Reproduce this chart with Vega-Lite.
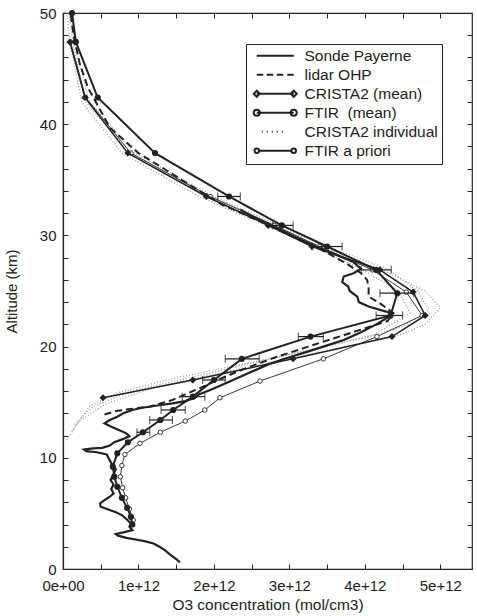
{
  "$schema": "https://vega.github.io/schema/vega-lite/v6.json",
  "width": 409,
  "height": 556,
  "autosize": "none",
  "padding": {"left": 63, "top": 13, "right": 5, "bottom": 47},
  "background": "#ffffff",
  "config": {
    "view": {"stroke": "#222", "strokeWidth": 1.2},
    "axis": {
      "domainColor": "#222", "tickColor": "#222", "labelColor": "#222", "titleColor": "#222",
      "labelFont": "Liberation Sans", "titleFont": "Liberation Sans",
      "labelFontSize": 15, "titleFontSize": 15.5, "titleFontWeight": "normal",
      "grid": false, "tickSize": -5, "tickWidth": 1, "domainWidth": 1.2
    }
  },
  "data": {
    "values": [
      {"s": "Sonde Payerne", "c": 1.55e12, "alt": 0.6},
      {"s": "Sonde Payerne", "c": 1.50e12, "alt": 0.9},
      {"s": "Sonde Payerne", "c": 1.42e12, "alt": 1.3},
      {"s": "Sonde Payerne", "c": 1.35e12, "alt": 1.7},
      {"s": "Sonde Payerne", "c": 1.28e12, "alt": 2.0},
      {"s": "Sonde Payerne", "c": 1.20e12, "alt": 2.3},
      {"s": "Sonde Payerne", "c": 1.08e12, "alt": 2.5},
      {"s": "Sonde Payerne", "c": 0.96e12, "alt": 2.65},
      {"s": "Sonde Payerne", "c": 0.84e12, "alt": 2.8},
      {"s": "Sonde Payerne", "c": 0.73e12, "alt": 3.0},
      {"s": "Sonde Payerne", "c": 0.70e12, "alt": 3.15},
      {"s": "Sonde Payerne", "c": 0.80e12, "alt": 3.3},
      {"s": "Sonde Payerne", "c": 0.92e12, "alt": 3.5},
      {"s": "Sonde Payerne", "c": 0.88e12, "alt": 3.8},
      {"s": "Sonde Payerne", "c": 0.90e12, "alt": 4.1},
      {"s": "Sonde Payerne", "c": 0.84e12, "alt": 4.5},
      {"s": "Sonde Payerne", "c": 0.78e12, "alt": 4.85},
      {"s": "Sonde Payerne", "c": 0.70e12, "alt": 5.1},
      {"s": "Sonde Payerne", "c": 0.60e12, "alt": 5.35},
      {"s": "Sonde Payerne", "c": 0.50e12, "alt": 5.6},
      {"s": "Sonde Payerne", "c": 0.49e12, "alt": 5.9},
      {"s": "Sonde Payerne", "c": 0.55e12, "alt": 6.2},
      {"s": "Sonde Payerne", "c": 0.62e12, "alt": 6.5},
      {"s": "Sonde Payerne", "c": 0.67e12, "alt": 6.8},
      {"s": "Sonde Payerne", "c": 0.64e12, "alt": 7.2},
      {"s": "Sonde Payerne", "c": 0.67e12, "alt": 7.6},
      {"s": "Sonde Payerne", "c": 0.63e12, "alt": 8.0},
      {"s": "Sonde Payerne", "c": 0.67e12, "alt": 8.5},
      {"s": "Sonde Payerne", "c": 0.70e12, "alt": 9.0},
      {"s": "Sonde Payerne", "c": 0.65e12, "alt": 9.4},
      {"s": "Sonde Payerne", "c": 0.61e12, "alt": 9.9},
      {"s": "Sonde Payerne", "c": 0.58e12, "alt": 10.3},
      {"s": "Sonde Payerne", "c": 0.45e12, "alt": 10.5},
      {"s": "Sonde Payerne", "c": 0.31e12, "alt": 10.6},
      {"s": "Sonde Payerne", "c": 0.28e12, "alt": 10.75},
      {"s": "Sonde Payerne", "c": 0.40e12, "alt": 10.85},
      {"s": "Sonde Payerne", "c": 0.52e12, "alt": 10.9},
      {"s": "Sonde Payerne", "c": 0.62e12, "alt": 11.1},
      {"s": "Sonde Payerne", "c": 0.68e12, "alt": 11.4},
      {"s": "Sonde Payerne", "c": 0.80e12, "alt": 11.7},
      {"s": "Sonde Payerne", "c": 0.88e12, "alt": 11.95},
      {"s": "Sonde Payerne", "c": 0.84e12, "alt": 12.2},
      {"s": "Sonde Payerne", "c": 0.74e12, "alt": 12.5},
      {"s": "Sonde Payerne", "c": 0.64e12, "alt": 12.8},
      {"s": "Sonde Payerne", "c": 0.55e12, "alt": 13.1},
      {"s": "Sonde Payerne", "c": 0.62e12, "alt": 13.4},
      {"s": "Sonde Payerne", "c": 0.72e12, "alt": 13.7},
      {"s": "Sonde Payerne", "c": 0.80e12, "alt": 14.0},
      {"s": "Sonde Payerne", "c": 0.92e12, "alt": 14.3},
      {"s": "Sonde Payerne", "c": 1.05e12, "alt": 14.5},
      {"s": "Sonde Payerne", "c": 1.25e12, "alt": 14.7},
      {"s": "Sonde Payerne", "c": 1.45e12, "alt": 14.9},
      {"s": "Sonde Payerne", "c": 1.62e12, "alt": 15.1},
      {"s": "Sonde Payerne", "c": 1.75e12, "alt": 15.4},
      {"s": "Sonde Payerne", "c": 1.80e12, "alt": 15.7},
      {"s": "Sonde Payerne", "c": 1.95e12, "alt": 16.1},
      {"s": "Sonde Payerne", "c": 2.12e12, "alt": 16.6},
      {"s": "Sonde Payerne", "c": 2.32e12, "alt": 17.2},
      {"s": "Sonde Payerne", "c": 2.52e12, "alt": 17.8},
      {"s": "Sonde Payerne", "c": 2.72e12, "alt": 18.4},
      {"s": "Sonde Payerne", "c": 2.98e12, "alt": 19.0},
      {"s": "Sonde Payerne", "c": 3.22e12, "alt": 19.5},
      {"s": "Sonde Payerne", "c": 3.45e12, "alt": 20.0},
      {"s": "Sonde Payerne", "c": 3.72e12, "alt": 20.6},
      {"s": "Sonde Payerne", "c": 3.95e12, "alt": 21.3},
      {"s": "Sonde Payerne", "c": 4.15e12, "alt": 22.0},
      {"s": "Sonde Payerne", "c": 4.30e12, "alt": 22.6},
      {"s": "Sonde Payerne", "c": 4.36e12, "alt": 23.0},
      {"s": "Sonde Payerne", "c": 4.20e12, "alt": 23.3},
      {"s": "Sonde Payerne", "c": 4.05e12, "alt": 23.6},
      {"s": "Sonde Payerne", "c": 3.92e12, "alt": 24.0},
      {"s": "Sonde Payerne", "c": 3.90e12, "alt": 24.5},
      {"s": "Sonde Payerne", "c": 3.80e12, "alt": 25.0},
      {"s": "Sonde Payerne", "c": 3.78e12, "alt": 25.4},
      {"s": "Sonde Payerne", "c": 3.70e12, "alt": 25.8},
      {"s": "Sonde Payerne", "c": 3.72e12, "alt": 26.3},
      {"s": "Sonde Payerne", "c": 3.85e12, "alt": 26.6},
      {"s": "Sonde Payerne", "c": 3.95e12, "alt": 27.0},
      {"s": "Sonde Payerne", "c": 3.85e12, "alt": 27.6},
      {"s": "Sonde Payerne", "c": 3.60e12, "alt": 28.3},
      {"s": "Sonde Payerne", "c": 3.35e12, "alt": 29.0},
      {"s": "Sonde Payerne", "c": 3.10e12, "alt": 29.8},
      {"s": "Sonde Payerne", "c": 2.85e12, "alt": 30.6},
      {"s": "Sonde Payerne", "c": 2.60e12, "alt": 31.4},
      {"s": "Sonde Payerne", "c": 2.35e12, "alt": 32.3},

      {"s": "lidar OHP", "c": 0.55e12, "alt": 13.9},
      {"s": "lidar OHP", "c": 0.70e12, "alt": 14.2},
      {"s": "lidar OHP", "c": 0.90e12, "alt": 14.4},
      {"s": "lidar OHP", "c": 1.15e12, "alt": 14.6},
      {"s": "lidar OHP", "c": 1.30e12, "alt": 14.9},
      {"s": "lidar OHP", "c": 1.45e12, "alt": 15.2},
      {"s": "lidar OHP", "c": 1.62e12, "alt": 15.7},
      {"s": "lidar OHP", "c": 1.86e12, "alt": 16.4},
      {"s": "lidar OHP", "c": 2.05e12, "alt": 17.0},
      {"s": "lidar OHP", "c": 2.40e12, "alt": 18.0},
      {"s": "lidar OHP", "c": 2.80e12, "alt": 19.0},
      {"s": "lidar OHP", "c": 3.25e12, "alt": 20.0},
      {"s": "lidar OHP", "c": 3.80e12, "alt": 21.2},
      {"s": "lidar OHP", "c": 4.30e12, "alt": 22.3},
      {"s": "lidar OHP", "c": 4.38e12, "alt": 23.0},
      {"s": "lidar OHP", "c": 4.22e12, "alt": 23.8},
      {"s": "lidar OHP", "c": 4.05e12, "alt": 24.5},
      {"s": "lidar OHP", "c": 4.05e12, "alt": 25.3},
      {"s": "lidar OHP", "c": 4.03e12, "alt": 26.0},
      {"s": "lidar OHP", "c": 3.95e12, "alt": 26.6},
      {"s": "lidar OHP", "c": 3.75e12, "alt": 27.5},
      {"s": "lidar OHP", "c": 3.40e12, "alt": 28.8},
      {"s": "lidar OHP", "c": 3.00e12, "alt": 30.0},
      {"s": "lidar OHP", "c": 2.60e12, "alt": 31.3},
      {"s": "lidar OHP", "c": 2.10e12, "alt": 32.8},
      {"s": "lidar OHP", "c": 1.64e12, "alt": 34.7},
      {"s": "lidar OHP", "c": 1.29e12, "alt": 36.2},
      {"s": "lidar OHP", "c": 1.00e12, "alt": 37.4},
      {"s": "lidar OHP", "c": 0.62e12, "alt": 39.7},
      {"s": "lidar OHP", "c": 0.33e12, "alt": 43.3},
      {"s": "lidar OHP", "c": 0.22e12, "alt": 45.5},
      {"s": "lidar OHP", "c": 0.14e12, "alt": 48.0},
      {"s": "lidar OHP", "c": 0.10e12, "alt": 50.0},

      {"s": "CRISTA2 (mean)", "c": 0.09e12, "alt": 47.4},
      {"s": "CRISTA2 (mean)", "c": 0.29e12, "alt": 42.4},
      {"s": "CRISTA2 (mean)", "c": 0.86e12, "alt": 37.4},
      {"s": "CRISTA2 (mean)", "c": 1.90e12, "alt": 33.5},
      {"s": "CRISTA2 (mean)", "c": 2.72e12, "alt": 30.9},
      {"s": "CRISTA2 (mean)", "c": 3.30e12, "alt": 29.0},
      {"s": "CRISTA2 (mean)", "c": 4.20e12, "alt": 26.9},
      {"s": "CRISTA2 (mean)", "c": 4.64e12, "alt": 24.9},
      {"s": "CRISTA2 (mean)", "c": 4.80e12, "alt": 22.8},
      {"s": "CRISTA2 (mean)", "c": 4.36e12, "alt": 20.9},
      {"s": "CRISTA2 (mean)", "c": 3.05e12, "alt": 18.9},
      {"s": "CRISTA2 (mean)", "c": 1.72e12, "alt": 17.0},
      {"s": "CRISTA2 (mean)", "c": 0.53e12, "alt": 15.4},

      {"s": "FTIR (mean)", "c": 0.12e12, "alt": 50.0},
      {"s": "FTIR (mean)", "c": 0.17e12, "alt": 47.4},
      {"s": "FTIR (mean)", "c": 0.46e12, "alt": 42.4},
      {"s": "FTIR (mean)", "c": 1.22e12, "alt": 37.4},
      {"s": "FTIR (mean)", "c": 2.20e12, "alt": 33.5, "lo": 2.05e12, "hi": 2.35e12},
      {"s": "FTIR (mean)", "c": 2.90e12, "alt": 30.9, "lo": 2.78e12, "hi": 3.05e12},
      {"s": "FTIR (mean)", "c": 3.50e12, "alt": 29.0, "lo": 3.30e12, "hi": 3.70e12},
      {"s": "FTIR (mean)", "c": 4.15e12, "alt": 26.9, "lo": 3.95e12, "hi": 4.35e12},
      {"s": "FTIR (mean)", "c": 4.43e12, "alt": 24.8, "lo": 4.20e12, "hi": 4.65e12},
      {"s": "FTIR (mean)", "c": 4.34e12, "alt": 22.8, "lo": 4.15e12, "hi": 4.50e12},
      {"s": "FTIR (mean)", "c": 3.28e12, "alt": 20.9, "lo": 3.12e12, "hi": 3.45e12},
      {"s": "FTIR (mean)", "c": 2.37e12, "alt": 18.9, "lo": 2.15e12, "hi": 2.60e12},
      {"s": "FTIR (mean)", "c": 2.00e12, "alt": 17.0, "lo": 1.85e12, "hi": 2.15e12},
      {"s": "FTIR (mean)", "c": 1.72e12, "alt": 15.5, "lo": 1.58e12, "hi": 1.88e12},
      {"s": "FTIR (mean)", "c": 1.46e12, "alt": 14.3, "lo": 1.30e12, "hi": 1.62e12},
      {"s": "FTIR (mean)", "c": 1.29e12, "alt": 13.4, "lo": 1.15e12, "hi": 1.45e12},
      {"s": "FTIR (mean)", "c": 1.06e12, "alt": 12.3, "lo": 0.98e12, "hi": 1.15e12},
      {"s": "FTIR (mean)", "c": 0.86e12, "alt": 11.4},
      {"s": "FTIR (mean)", "c": 0.72e12, "alt": 10.4},
      {"s": "FTIR (mean)", "c": 0.66e12, "alt": 9.2},
      {"s": "FTIR (mean)", "c": 0.68e12, "alt": 8.3},
      {"s": "FTIR (mean)", "c": 0.72e12, "alt": 7.4},
      {"s": "FTIR (mean)", "c": 0.78e12, "alt": 6.4},
      {"s": "FTIR (mean)", "c": 0.85e12, "alt": 5.5},
      {"s": "FTIR (mean)", "c": 0.90e12, "alt": 4.7},
      {"s": "FTIR (mean)", "c": 0.92e12, "alt": 4.0},

      {"s": "CRISTA2 individual", "p": 1, "c": 0.05e12, "alt": 50.0},
      {"s": "CRISTA2 individual", "p": 1, "c": 0.10e12, "alt": 47.0},
      {"s": "CRISTA2 individual", "p": 1, "c": 0.25e12, "alt": 42.0},
      {"s": "CRISTA2 individual", "p": 1, "c": 0.78e12, "alt": 37.4},
      {"s": "CRISTA2 individual", "p": 1, "c": 1.80e12, "alt": 33.5},
      {"s": "CRISTA2 individual", "p": 1, "c": 2.70e12, "alt": 30.9},
      {"s": "CRISTA2 individual", "p": 1, "c": 3.40e12, "alt": 29.0},
      {"s": "CRISTA2 individual", "p": 1, "c": 4.20e12, "alt": 27.0},
      {"s": "CRISTA2 individual", "p": 1, "c": 4.80e12, "alt": 25.0},
      {"s": "CRISTA2 individual", "p": 1, "c": 5.00e12, "alt": 23.5},
      {"s": "CRISTA2 individual", "p": 1, "c": 4.80e12, "alt": 22.0},
      {"s": "CRISTA2 individual", "p": 1, "c": 4.45e12, "alt": 21.0},
      {"s": "CRISTA2 individual", "p": 1, "c": 3.20e12, "alt": 19.2},
      {"s": "CRISTA2 individual", "p": 1, "c": 2.00e12, "alt": 17.5},
      {"s": "CRISTA2 individual", "p": 1, "c": 1.20e12, "alt": 16.3},
      {"s": "CRISTA2 individual", "p": 1, "c": 0.55e12, "alt": 14.8},
      {"s": "CRISTA2 individual", "p": 1, "c": 0.20e12, "alt": 13.2},
      {"s": "CRISTA2 individual", "p": 1, "c": 0.05e12, "alt": 11.6},
      {"s": "CRISTA2 individual", "p": 2, "c": 0.08e12, "alt": 50.0},
      {"s": "CRISTA2 individual", "p": 2, "c": 0.14e12, "alt": 47.0},
      {"s": "CRISTA2 individual", "p": 2, "c": 0.30e12, "alt": 42.0},
      {"s": "CRISTA2 individual", "p": 2, "c": 0.90e12, "alt": 37.4},
      {"s": "CRISTA2 individual", "p": 2, "c": 1.95e12, "alt": 33.5},
      {"s": "CRISTA2 individual", "p": 2, "c": 2.80e12, "alt": 30.9},
      {"s": "CRISTA2 individual", "p": 2, "c": 3.50e12, "alt": 29.0},
      {"s": "CRISTA2 individual", "p": 2, "c": 4.30e12, "alt": 27.0},
      {"s": "CRISTA2 individual", "p": 2, "c": 4.70e12, "alt": 25.0},
      {"s": "CRISTA2 individual", "p": 2, "c": 4.85e12, "alt": 23.3},
      {"s": "CRISTA2 individual", "p": 2, "c": 4.50e12, "alt": 21.8},
      {"s": "CRISTA2 individual", "p": 2, "c": 4.00e12, "alt": 20.8},
      {"s": "CRISTA2 individual", "p": 2, "c": 3.00e12, "alt": 19.3},
      {"s": "CRISTA2 individual", "p": 2, "c": 1.80e12, "alt": 17.4},
      {"s": "CRISTA2 individual", "p": 2, "c": 0.90e12, "alt": 16.0},
      {"s": "CRISTA2 individual", "p": 2, "c": 0.40e12, "alt": 14.6},
      {"s": "CRISTA2 individual", "p": 2, "c": 0.15e12, "alt": 13.0},
      {"s": "CRISTA2 individual", "p": 3, "c": 0.10e12, "alt": 50.0},
      {"s": "CRISTA2 individual", "p": 3, "c": 0.16e12, "alt": 47.0},
      {"s": "CRISTA2 individual", "p": 3, "c": 0.35e12, "alt": 42.0},
      {"s": "CRISTA2 individual", "p": 3, "c": 0.95e12, "alt": 37.4},
      {"s": "CRISTA2 individual", "p": 3, "c": 2.00e12, "alt": 33.5},
      {"s": "CRISTA2 individual", "p": 3, "c": 2.85e12, "alt": 30.9},
      {"s": "CRISTA2 individual", "p": 3, "c": 3.30e12, "alt": 29.0},
      {"s": "CRISTA2 individual", "p": 3, "c": 3.95e12, "alt": 27.0},
      {"s": "CRISTA2 individual", "p": 3, "c": 4.45e12, "alt": 25.0},
      {"s": "CRISTA2 individual", "p": 3, "c": 4.60e12, "alt": 23.0},
      {"s": "CRISTA2 individual", "p": 3, "c": 4.10e12, "alt": 21.0},
      {"s": "CRISTA2 individual", "p": 3, "c": 2.80e12, "alt": 19.0},
      {"s": "CRISTA2 individual", "p": 3, "c": 1.50e12, "alt": 17.2},
      {"s": "CRISTA2 individual", "p": 3, "c": 0.70e12, "alt": 15.8},
      {"s": "CRISTA2 individual", "p": 3, "c": 0.35e12, "alt": 14.6},
      {"s": "CRISTA2 individual", "p": 3, "c": 0.12e12, "alt": 12.4},

      {"s": "FTIR a priori", "c": 0.93e12, "alt": 4.4},
      {"s": "FTIR a priori", "c": 0.88e12, "alt": 5.4},
      {"s": "FTIR a priori", "c": 0.83e12, "alt": 6.4},
      {"s": "FTIR a priori", "c": 0.79e12, "alt": 7.3},
      {"s": "FTIR a priori", "c": 0.76e12, "alt": 8.3},
      {"s": "FTIR a priori", "c": 0.78e12, "alt": 9.3},
      {"s": "FTIR a priori", "c": 0.82e12, "alt": 10.3},
      {"s": "FTIR a priori", "c": 1.02e12, "alt": 11.3},
      {"s": "FTIR a priori", "c": 1.29e12, "alt": 12.3},
      {"s": "FTIR a priori", "c": 1.62e12, "alt": 13.3},
      {"s": "FTIR a priori", "c": 1.88e12, "alt": 14.3},
      {"s": "FTIR a priori", "c": 2.08e12, "alt": 15.4},
      {"s": "FTIR a priori", "c": 2.61e12, "alt": 16.9},
      {"s": "FTIR a priori", "c": 3.45e12, "alt": 18.9},
      {"s": "FTIR a priori", "c": 4.16e12, "alt": 20.9},
      {"s": "FTIR a priori", "c": 4.76e12, "alt": 22.8},
      {"s": "FTIR a priori", "c": 4.55e12, "alt": 24.9},
      {"s": "FTIR a priori", "c": 4.10e12, "alt": 26.9},
      {"s": "FTIR a priori", "c": 3.40e12, "alt": 29.0},
      {"s": "FTIR a priori", "c": 2.80e12, "alt": 30.9},
      {"s": "FTIR a priori", "c": 1.95e12, "alt": 33.5},
      {"s": "FTIR a priori", "c": 0.90e12, "alt": 37.4},
      {"s": "FTIR a priori", "c": 0.30e12, "alt": 42.4},
      {"s": "FTIR a priori", "c": 0.10e12, "alt": 47.4}
    ]
  },
  "layer": [
    {
      "transform": [{"filter": "datum.s === 'CRISTA2 individual'"}],
      "mark": {"type": "line", "stroke": "#9a9a9a", "strokeWidth": 1.3, "strokeDash": [1, 2]},
      "encoding": {
        "x": {"field": "c", "type": "quantitative", "scale": {"domain": [0, 5.42e12], "nice": false, "zero": false},
          "axis": {"orient": "bottom", "title": "O3 concentration (mol/cm3)",
            "values": [0, 5e11, 1e12, 1.5e12, 2e12, 2.5e12, 3e12, 3.5e12, 4e12, 4.5e12, 5e12],
            "labelExpr": "datum.value % 1e12 === 0 ? (datum.value === 0 ? '0e+00' : format(datum.value, '.0e')) : ''",
            "labelPadding": 14, "titlePadding": 4, "labelFlush": false}},
        "y": {"field": "alt", "type": "quantitative", "scale": {"domain": [0, 50], "nice": false},
          "axis": {"orient": "left", "title": "Altitude (km)", "titleFontSize": 15,
            "values": [0, 2, 4, 6, 8, 10, 12, 14, 16, 18, 20, 22, 24, 26, 28, 30, 32, 34, 36, 38, 40, 42, 44, 46, 48, 50],
            "labelExpr": "datum.value % 10 === 0 ? datum.label : ''",
            "labelPadding": 12, "titlePadding": 20}},
        "detail": {"field": "p"},
        "order": {"field": "alt"}
      }
    },
    {
      "transform": [{"filter": "datum.s === 'FTIR a priori'"}],
      "mark": {"type": "line", "stroke": "#222", "strokeWidth": 0.9, "point": {"filled": true, "fill": "#fff", "stroke": "#222", "strokeWidth": 0.9, "size": 20}},
      "encoding": {
        "x": {"field": "c", "type": "quantitative", "axis": null},
        "y": {"field": "alt", "type": "quantitative", "axis": null},
        "order": {"field": "alt"}
      }
    },
    {
      "transform": [{"filter": "datum.s === 'lidar OHP'"}],
      "mark": {"type": "line", "stroke": "#222", "strokeWidth": 2, "strokeDash": [7, 4]},
      "encoding": {
        "x": {"field": "c", "type": "quantitative", "axis": null},
        "y": {"field": "alt", "type": "quantitative", "axis": null},
        "order": {"field": "alt"}
      }
    },
    {
      "transform": [{"filter": "datum.s === 'Sonde Payerne'"}],
      "mark": {"type": "line", "stroke": "#222", "strokeWidth": 2.2},
      "encoding": {
        "x": {"field": "c", "type": "quantitative", "axis": null},
        "y": {"field": "alt", "type": "quantitative", "axis": null},
        "order": {"field": "alt"}
      }
    },
    {
      "transform": [{"filter": "datum.s === 'CRISTA2 (mean)'"}],
      "mark": {"type": "line", "stroke": "#222", "strokeWidth": 1.5, "point": {"shape": "diamond", "filled": true, "fill": "#222", "size": 49}},
      "encoding": {
        "x": {"field": "c", "type": "quantitative", "axis": null},
        "y": {"field": "alt", "type": "quantitative", "axis": null},
        "order": {"field": "alt"}
      }
    },
    {
      "transform": [{"filter": "datum.s === 'FTIR (mean)'"}],
      "mark": {"type": "line", "stroke": "#222", "strokeWidth": 2, "point": {"shape": "circle", "filled": true, "fill": "#222", "size": 38}},
      "encoding": {
        "x": {"field": "c", "type": "quantitative", "axis": null},
        "y": {"field": "alt", "type": "quantitative", "axis": null},
        "order": {"field": "alt"}
      }
    },
    {
      "transform": [{"filter": "datum.s === 'FTIR (mean)' && isValid(datum.lo)"}],
      "mark": {"type": "errorbar", "ticks": {"size": 8, "color": "#222"}, "color": "#222", "thickness": 1.2},
      "encoding": {
        "x": {"field": "lo", "type": "quantitative", "axis": null},
        "x2": {"field": "hi"},
        "y": {"field": "alt", "type": "quantitative", "axis": null}
      }
    },
    {
      "transform": [{"filter": "false"}],
      "mark": {"type": "point"},
      "encoding": {
        "x": {"field": "c", "type": "quantitative",
          "axis": {"orient": "top", "title": null, "labels": false, "domain": false,
            "values": [0, 5e11, 1e12, 1.5e12, 2e12, 2.5e12, 3e12, 3.5e12, 4e12, 4.5e12, 5e12]}},
        "y": {"field": "alt", "type": "quantitative",
          "axis": {"orient": "right", "title": null, "labels": false, "domain": false,
            "values": [0, 2, 4, 6, 8, 10, 12, 14, 16, 18, 20, 22, 24, 26, 28, 30, 32, 34, 36, 38, 40, 42, 44, 46, 48, 50]}},
        "shape": {"field": "s", "type": "nominal",
          "scale": {
            "domain": ["Sonde Payerne", "lidar OHP", "CRISTA2 (mean)", "FTIR (mean)", "CRISTA2 individual", "FTIR a priori"],
            "range": [
              "M-0.2,0H7.2",
              "M-0.2,0H1.1M1.8,0H3.1M3.8,0H5.1M5.9,0H7.2",
              "M-0.2,0H7.2M-0.8,0L-0.2,-0.6L0.4,0L-0.2,0.6ZM6.6,0L7.2,-0.6L7.8,0L7.2,0.6Z",
              "M-0.2,0H7.2M-0.8,0A0.6,0.6 0 1,0 0.4,0A0.6,0.6 0 1,0 -0.8,0ZM6.6,0A0.6,0.6 0 1,0 7.8,0A0.6,0.6 0 1,0 6.6,0Z",
              "M0.8,0H1.0M1.8,0H2.0M2.8,0H3.0M3.8,0H4.0M4.8,0H5.0",
              "M0.25,0H6.75M-0.65,0A0.45,0.45 0 1,0 0.25,0A0.45,0.45 0 1,0 -0.65,0ZM6.75,0A0.45,0.45 0 1,0 7.65,0A0.45,0.45 0 1,0 6.75,0Z"
            ]
          },
          "legend": {
            "orient": "none", "legendX": 183, "legendY": 31, "title": null,
            "padding": 4, "strokeColor": "#222", "fillColor": "#fff",
            "labelFont": "Liberation Sans", "labelFontSize": 15.5, "labelColor": "#222",
            "symbolSize": 100, "symbolOffset": 0, "labelOffset": 39, "rowPadding": 2,
            "symbolOpacity": 1, "symbolStrokeColor": "#222", "symbolFillColor": "#222", "symbolStrokeWidth": 2,
            "labelExpr": "datum.label === 'FTIR (mean)' ? 'FTIR\u00a0 (mean)' : datum.label",
            "encode": {
              "symbols": {
                "stroke": {"value": {"expr": "datum.value === 'CRISTA2 individual' ? '#aaa' : '#222'"}},
                "fill": {"value": {"expr": "datum.value === 'FTIR a priori' ? '#fff' : '#222'"}},
                "strokeWidth": {"value": {"expr": "datum.value === 'FTIR a priori' ? 0.9 : (datum.value === 'CRISTA2 (mean)' ? 1.5 : 2)"}},
                "opacity": {"value": 1}
              }
            }
          }
        }
      }
    }
  ],
  "resolve": {"axis": {"x": "independent", "y": "independent"}}
}
